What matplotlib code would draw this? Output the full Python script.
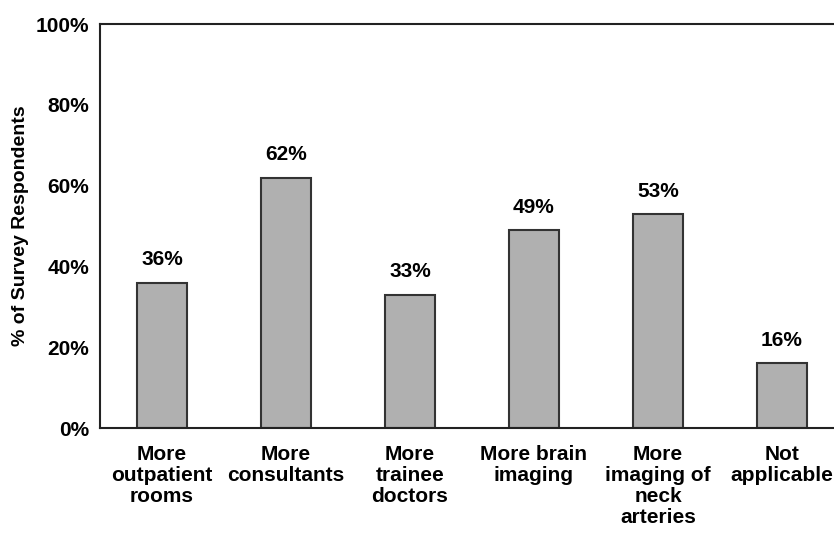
import matplotlib.pyplot as plt
from matplotlib.ticker import PercentFormatter

plt.rcParams['font.family'] = ['Liberation Sans', 'DejaVu Sans']
plt.rcParams['font.weight'] = 'bold'

# data
categories = ['More\noutpatient\nrooms', 'More\nconsultants', 'More\ntrainee\ndoctors',
              'More brain\nimaging', 'More\nimaging of\nneck\narteries', 'Not\napplicable']
values = [36, 62, 33, 49, 53, 16]
y_ticks = [0, 20, 40, 60, 80, 100]

fig = plt.figure(figsize=(8.34, 5.38), dpi=100)
ax = fig.add_axes([100/834, (538-428)/538, 734/834, 404/538])

x = range(len(values))
ax.bar(x, values, width=0.4, color='#b0b0b0', edgecolor='#333333', linewidth=1.5)
for xi, v in zip(x, values):
    ax.text(xi, v + 3.3, f'{v}%', ha='center', va='bottom', fontsize=15, fontweight='bold')

ax.set_xlim(-0.5, 5.42)
ax.set_ylim(0, 100)
ax.set_yticks(y_ticks)
ax.yaxis.set_major_formatter(PercentFormatter(decimals=0))
ax.set_xticks(list(x))
ax.set_xticklabels(categories, fontsize=15, fontweight='bold', linespacing=1.15)
ax.tick_params(axis='both', length=0, labelsize=15)
ax.tick_params(axis='y', pad=8)
ax.tick_params(axis='x', pad=12)
ax.set_ylabel('% of Survey Respondents', fontsize=14, fontweight='bold')
ax.yaxis.set_label_coords(-0.097, 0.5)

ax.spines['right'].set_visible(False)
for s in ['left', 'top', 'bottom']:
    ax.spines[s].set_linewidth(1.5)
    ax.spines[s].set_color('#222222')

fig.savefig('out.png', dpi=100)
